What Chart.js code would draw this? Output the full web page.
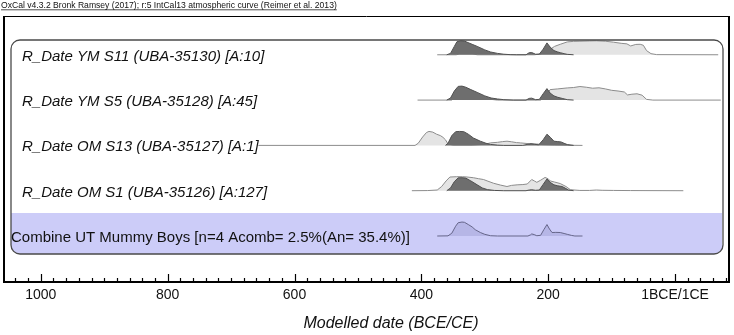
<!DOCTYPE html>
<html>
<head>
<meta charset="utf-8">
<script src="https://cdn.jsdelivr.net/npm/chart.js@4/dist/chart.umd.min.js"></script>
<style>
  html, body { margin: 0; padding: 0; background: #fff; }
  #wrap { width: 734px; height: 335px; }
</style>
</head>
<body>
<div id="wrap"><canvas id="myChart" width="734" height="335"></canvas></div>
<script>
// OxCal multiplot, rebuilt with Chart.js //

const FONT = "'Liberation Sans', Arial, sans-serif";

// Zeilen (oben -> unten)
const rowLabels = [
    "R_Date YM S11 (UBA-35130) [A:10]",
    "R_Date YM S5 (UBA-35128) [A:45]",
    "R_Date OM S13 (UBA-35127) [A:1]",
    "R_Date OM S1 (UBA-35126) [A:127]",
    "Combine UT Mummy Boys [n=4 Acomb= 2.5%(An= 35.4%)]"
];

// x-Achse: Jahre BCE (positiv), 0 = 1BCE/1CE
const xMin = -85;
const xMax = 1058;
const tickValues = [1000, 800, 600, 400, 200, 0];
const tickLabels = { 0: "1BCE/1CE" };

// Wahrscheinlichkeiten [Jahr BCE, relative Dichte]
// hell = unmodelled (likelihood), dunkel = modelled (posterior)
const likeS11 = [[375,0],[345,0],[340,0.08],[320,0.08],[312,0],[222,0],[212,0.05],[205,0.2],[200,0.3],[190,0.6],[181,0.75],[170,0.92],[160,0.96],[150,0.97],[135,0.99],[124,1.0],[110,0.97],[97,0.9],[85,0.82],[76,0.78],[70,0.63],[62,0.74],[55,0.75],[50,0.68],[45,0.3],[38,0.08],[29,0.01],[-68,0]];
const postS11 = [[360,0],[354,0.1],[348,0.6],[344,0.93],[338,1.0],[332,0.98],[328,0.9],[320,0.75],[312,0.6],[300,0.35],[291,0.2],[280,0.1],[270,0.04],[260,0.01],[250,0],[235,0],[230,0.15],[226,0.16],[220,0.04],[214,0.05],[208,0.4],[202,0.85],[197,0.55],[191,0.3],[185,0.2],[181,0.15],[175,0.08],[170,0.03],[160,0]];

const likeS5 = [[406,0],[352,0],[346,0.25],[335,0.32],[325,0.3],[312,0.25],[300,0.15],[290,0.05],[280,0],[212,0],[205,0.2],[200,0.55],[197,0.75],[185,0.8],[170,0.87],[160,0.9],[150,0.97],[140,0.92],[130,0.85],[120,0.88],[110,0.8],[100,0.7],[90,0.65],[80,0.58],[75,0.37],[68,0.42],[60,0.45],[52,0.35],[45,0.05],[35,0],[-72,0]];
const postS5 = [[360,0],[354,0.15],[348,0.65],[342,0.98],[336,1.0],[330,0.92],[322,0.75],[312,0.55],[300,0.3],[290,0.15],[280,0.08],[270,0.03],[255,0],[235,0],[230,0.12],[226,0.14],[220,0.03],[214,0.05],[208,0.45],[202,0.82],[197,0.5],[191,0.3],[185,0.2],[178,0.12],[170,0.03],[160,0]];

const likeS13 = [[657,0],[410,0],[405,0.15],[398,0.6],[392,0.92],[388,1.0],[382,0.95],[376,0.8],[370,0.7],[366,0.58],[362,0.4],[358,0.1],[350,0.02],[320,0.02],[300,0.08],[291,0.18],[280,0.22],[272,0.27],[265,0.3],[258,0.26],[250,0.2],[244,0.18],[230,0.12],[218,0.1],[210,0.06],[190,0.03],[170,0.01],[146,0]];
const postS13 = [[362,0],[358,0.15],[352,0.7],[346,0.98],[340,1.0],[333,0.98],[326,0.8],[318,0.53],[307,0.3],[298,0.15],[291,0.07],[280,0.02],[270,0],[240,0],[232,0.08],[227,0.12],[222,0.08],[215,0.04],[208,0.4],[202,0.8],[196,0.55],[191,0.3],[185,0.27],[180,0.25],[175,0.15],[170,0.06],[160,0]];

const likeS1 = [[415,0],[390,0.01],[375,0.05],[368,0.3],[361,0.7],[355,0.98],[345,1.0],[335,1.0],[328,0.98],[318,0.93],[310,0.86],[302,0.8],[295,0.68],[286,0.53],[275,0.4],[265,0.3],[258,0.38],[249,0.42],[240,0.44],[233,0.48],[226,0.8],[222,0.7],[218,0.6],[212,0.75],[205,0.95],[200,0.85],[197,0.7],[190,0.62],[181,0.51],[172,0.3],[165,0.07],[150,0.02],[135,0.02],[124,0.05],[115,0.03],[97,0.02],[70,0.01],[-13,0]];
const postS1 = [[360,0],[354,0.2],[348,0.65],[342,0.92],[336,0.93],[330,0.9],[322,0.7],[312,0.42],[304,0.2],[296,0.08],[285,0.02],[270,0],[235,0],[230,0.05],[226,0.07],[220,0.03],[214,0.05],[208,0.45],[202,0.84],[197,0.6],[191,0.42],[185,0.35],[178,0.3],[172,0.15],[168,0.05],[160,0]];

const combine = [[375,0],[358,0.01],[352,0.2],[346,0.7],[342,0.95],[336,1.0],[332,0.98],[326,0.82],[320,0.65],[315,0.45],[307,0.25],[300,0.12],[291,0.02],[280,0],[232,0],[228,0.08],[226,0.15],[222,0.1],[218,0.02],[212,0.05],[207,0.45],[202,0.82],[198,0.5],[194,0.25],[188,0.26],[181,0.25],[175,0.18],[170,0.12],[163,0.04],[158,0],[146,0]];

// Zeilenabstand in y-Einheiten, Hoehe der Kurven
const rowStep = 1.005;
const peakHeight = 0.31;
const yMax = 5.9;

function rowBase(row) {
    return 1.02 + (4 - row) * rowStep;
}

function toPoints(pairs, row) {
    return pairs.map(p => ({ x: p[0], y: rowBase(row) + p[1] * peakHeight }));
}

function distSet(pairs, row, kind) {
    let styles = {
        like: { bg: '#e4e4e4', border: '#8c8c8c', order: 2 },
        post: { bg: '#6e6e6e', border: '#505050', order: 1 },
        comb: { bg: '#b6b6e6', border: '#66668a', order: 1 }
    };
    let s = styles[kind];
    return {
        data: toPoints(pairs, row),
        backgroundColor: s.bg,
        borderColor: s.border,
        borderWidth: 1,
        pointRadius: 0,
        tension: 0,
        order: s.order,
        fill: { value: rowBase(row) }
    };
}

const datasets = [
    distSet(likeS11, 0, 'like'), distSet(postS11, 0, 'post'),
    distSet(likeS5, 1, 'like'),  distSet(postS5, 1, 'post'),
    distSet(likeS13, 2, 'like'), distSet(postS13, 2, 'post'),
    distSet(likeS1, 3, 'like'),  distSet(postS1, 3, 'post'),
    distSet(combine, 4, 'comb')
];

// Rahmen, Box, Beschriftungen
const oxcalPlugin = {
    id: 'oxcal',
    beforeDatasetsDraw(chart) {
        const ctx = chart.ctx;
        const a = chart.chartArea;
        const y = chart.scales.y;
        let left = a.left + 7, right = a.right - 6;
        let top = 40, bottom = 254;
        // blaues Band fuer Combine
        let bandTop = y.getPixelForValue(rowBase(4)) - 23;
        ctx.save();
        ctx.beginPath();
        ctx.roundRect(left, top, right - left, bottom - top, 9);
        ctx.clip();
        ctx.fillStyle = 'rgb(204,204,248)';
        ctx.fillRect(left, bandTop, right - left, bottom - bandTop);
        ctx.restore();
    },
    afterDatasetsDraw(chart) {
        const ctx = chart.ctx;
        const a = chart.chartArea;
        const x = chart.scales.x;
        const y = chart.scales.y;
        let left = a.left + 7, right = a.right - 6;
        let top = 40, bottom = 254;
        ctx.save();

        // innere Box
        ctx.beginPath();
        ctx.roundRect(left, top, right - left, bottom - top, 9);
        ctx.lineWidth = 1.3;
        ctx.strokeStyle = '#4a4a4a';
        ctx.stroke();
        ctx.beginPath();
        ctx.moveTo(right, top + 9);
        ctx.lineTo(right, bottom - 9);
        ctx.lineWidth = 2;
        ctx.strokeStyle = '#8a8a8a';
        ctx.stroke();

        // Zeilentexte
        ctx.fillStyle = '#111';
        ctx.textBaseline = 'alphabetic';
        rowLabels.forEach((lbl, i) => {
            let py = y.getPixelForValue(rowBase(i));
            if (i < 4) {
                ctx.font = 'italic 15px ' + FONT;
                ctx.fillText(lbl, 22, py + 6);
            } else {
                ctx.font = '15px ' + FONT;
                ctx.fillText(lbl, 11, py + 6);
            }
        });

        // Aussenrahmen
        ctx.strokeStyle = '#000';
        ctx.lineWidth = 1;
        ctx.beginPath();
        ctx.moveTo(a.left, a.top + 0.5);
        ctx.lineTo(a.right, a.top + 0.5);
        ctx.stroke();
        ctx.lineWidth = 2;
        ctx.beginPath();
        ctx.moveTo(a.left, a.top);
        ctx.lineTo(a.left, a.bottom);
        ctx.lineTo(a.right, a.bottom);
        ctx.lineTo(a.right, a.top);
        ctx.stroke();

        // Striche nach innen, alle 20 Jahre
        ctx.lineWidth = 1.2;
        for (let yr = -80; yr <= 1040; yr += 20) {
            let px = Math.round(x.getPixelForValue(yr)) + 0.5;
            let len = (yr % 200 === 0) ? 8 : 4;
            ctx.beginPath();
            ctx.moveTo(px, a.bottom);
            ctx.lineTo(px, a.bottom - len);
            ctx.stroke();
        }

        // Achsentitel
        ctx.font = 'italic 16px ' + FONT;
        ctx.textAlign = 'center';
        ctx.fillStyle = '#111';
        ctx.fillText('Modelled date (BCE/CE)', 391, 328);

        // Kopfzeile
        ctx.font = '8.6px ' + FONT;
        ctx.textAlign = 'left';
        let head = 'OxCal v4.3.2 Bronk Ramsey (2017); r:5 IntCal13 atmospheric curve (Reimer et al. 2013)';
        ctx.fillText(head, 1, 8);
        let w = ctx.measureText(head).width;
        ctx.lineWidth = 0.7;
        ctx.beginPath();
        ctx.moveTo(1, 9.8);
        ctx.lineTo(1 + w, 9.8);
        ctx.stroke();

        ctx.restore();
    }
};

const chart = new Chart(document.getElementById('myChart'), {
    type: 'line',
    data: { datasets: datasets },
    options: {
        responsive: false,
        animation: false,
        layout: { padding: { top: 16, left: 4, right: 5, bottom: 0 } },
        plugins: { legend: { display: false }, tooltip: { enabled: false } },
        scales: {
            x: {
                type: 'linear',
                reverse: true,
                min: xMin,
                max: xMax,
                border: { display: false },
                grid: { display: false, drawTicks: false },
                afterBuildTicks: (scale) => {
                    scale.ticks = tickValues.map(v => ({ value: v }));
                },
                afterFit: (scale) => { scale.height = 53; },
                ticks: {
                    autoSkip: false,
                    maxRotation: 0,
                    padding: 5,
                    color: '#111',
                    font: { family: FONT, size: 14 },
                    callback: (v) => tickLabels[v] !== undefined ? tickLabels[v] : String(v)
                }
            },
            y: {
                display: false,
                min: 0,
                max: yMax
            }
        }
    },
    plugins: [oxcalPlugin]
});
</script>
</body>
</html>
